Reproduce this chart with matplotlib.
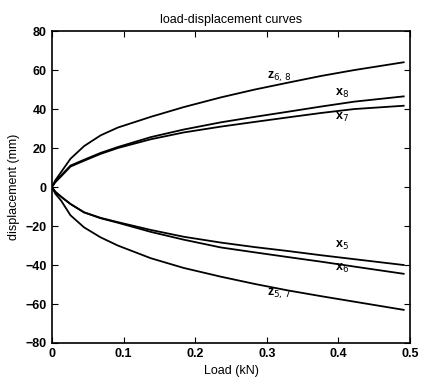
import matplotlib.pyplot as plt

plt.rcParams['font.family'] = ['Liberation Sans', 'DejaVu Sans']

load = [0, 0.005, 0.013, 0.026, 0.045, 0.068, 0.092, 0.138, 0.184, 0.236,
        0.283, 0.329, 0.376, 0.422, 0.491]

z68 = [0, 3.5, 7.7, 14.5, 21, 26.5, 30.5, 36, 41, 46, 50, 53.5, 57, 60, 64]
x8 = [0, 3, 6, 11, 14, 17.5, 20.5, 25.6, 29.5, 33.2, 36, 38.6, 41.3, 43.8, 46.5]
x7 = [0, 2.5, 5.5, 10.5, 13.5, 17, 20, 24.5, 28, 31, 33.4, 35.7, 38, 40, 41.7]
x5 = [0, -2.5, -5, -8.7, -13, -15.8, -18, -22, -25.5, -28.5, -30.8, -32.8, -35, -37, -40]
x6 = [0, -2.5, -5, -8.7, -13, -16, -18.3, -23, -27, -31, -33.5, -35.9, -38.3, -40.8, -44.5]
z57 = [0, -3.5, -7, -14.5, -20.7, -25.8, -30, -36.5, -41.5, -46, -49.7, -53, -56, -58.8, -63]

fig = plt.figure(figsize=(4.25, 3.79), dpi=100)
ax = fig.add_axes([0.122, 0.095, 0.843, 0.823])

for ys in [z68, x8, x7, x5, x6, z57]:
    ax.plot(load, ys, color='black', lw=1.3)

ax.text(0.30, 55.5, r'z$_{6,\,8}$', fontsize=9, fontweight='bold')
ax.text(0.395, 46.5, r'x$_8$', fontsize=9, fontweight='bold')
ax.text(0.395, 34.5, r'x$_7$', fontsize=9, fontweight='bold')
ax.text(0.395, -31, r'x$_5$', fontsize=9, fontweight='bold')
ax.text(0.395, -43, r'x$_6$', fontsize=9, fontweight='bold')
ax.text(0.30, -56, r'z$_{5,\,7}$', fontsize=9, fontweight='bold')

ax.set_xlim(0, 0.5)
ax.set_ylim(-80, 80)
ax.set_xticks([0, 0.1, 0.2, 0.3, 0.4, 0.5])
ax.set_xticklabels(['0', '0.1', '0.2', '0.3', '0.4', '0.5'])
ax.set_yticks(range(-80, 81, 20))
ax.tick_params(direction='in', top=True, right=True, length=4, labelsize=9)
for lab in ax.get_xticklabels() + ax.get_yticklabels():
    lab.set_fontweight('bold')
for s in ax.spines.values():
    s.set_linewidth(1.2)

ax.set_title('load-displacement curves', fontsize=9)
ax.set_xlabel('Load (kN)', fontsize=9)
ax.set_ylabel('displacement (mm)', fontsize=9)

fig.savefig('out.png', dpi=100)
